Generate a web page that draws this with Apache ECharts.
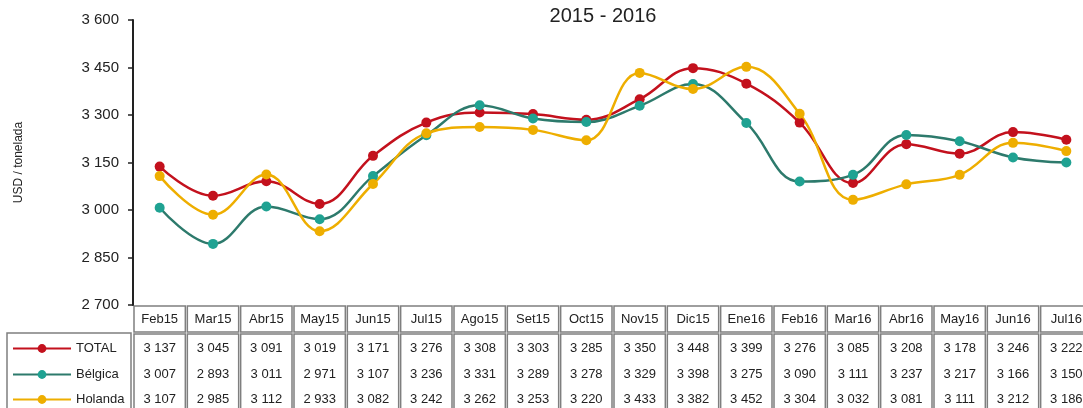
<!DOCTYPE html>
<html>
<head>
<meta charset="utf-8">
<script src="https://cdn.jsdelivr.net/npm/echarts@6/dist/echarts.min.js"></script>
<style>
  html, body { margin: 0; padding: 0; background: #fff; }
  #main { width: 1083px; height: 408px; }
</style>
</head>
<body>
<div id="main"></div>
<script>
// data
var months = ['Feb15', 'Mar15', 'Abr15', 'May15', 'Jun15', 'Jul15', 'Ago15', 'Set15', 'Oct15',
  'Nov15', 'Dic15', 'Ene16', 'Feb16', 'Mar16', 'Abr16', 'May16', 'Jun16', 'Jul16'];
var total = [3137, 3045, 3091, 3019, 3171, 3276, 3308, 3303, 3285, 3350, 3448, 3399, 3276, 3085, 3208, 3178, 3246, 3222];
var belgica = [3007, 2893, 3011, 2971, 3107, 3236, 3331, 3289, 3278, 3329, 3398, 3275, 3090, 3111, 3237, 3217, 3166, 3150];
var holanda = [3107, 2985, 3112, 2933, 3082, 3242, 3262, 3253, 3220, 3433, 3382, 3452, 3304, 3032, 3081, 3111, 3212, 3186];
var seriesNames = ['TOTAL', 'Bélgica', 'Holanda'];

var FONT = 'Liberation Sans, Arial, sans-serif';
var GRID_TOP = 20, GRID_H = 285;
var ROW_OFFSETS = [37, 63, 88];

function fmt(v) {
  return String(v).replace(/\B(?=(\d{3})+(?!\d))/g, ' ');
}

// extra category axes under the plot carry the table rows
function rowAxis(values, offset) {
  return {
    type: 'category',
    position: 'bottom',
    offset: offset,
    data: values.map(fmt),
    axisLine: { show: false },
    axisTick: { show: false },
    axisLabel: { interval: 0, margin: 0, color: '#222', fontSize: 13, fontFamily: FONT }
  };
}

// one legend per table row so each sits on its own line
function rowLegend(name, top) {
  return {
    orient: 'horizontal',
    left: 12,
    top: top,
    padding: 0,
    itemWidth: 58,
    itemHeight: 11,
    textStyle: { color: '#222', fontSize: 13, fontFamily: FONT },
    data: [name]
  };
}

var myChart = echarts.init(document.getElementById('main'), null, { renderer: 'canvas' });

var option = {
  animation: false,
  title: {
    text: '2015 - 2016',
    left: 598,
    textAlign: 'center',
    top: 1,
    textStyle: { color: '#222', fontSize: 20, fontWeight: 'normal', fontFamily: FONT }
  },
  legend: [
    rowLegend(seriesNames[0], 342),
    rowLegend(seriesNames[1], 368),
    rowLegend(seriesNames[2], 393)
  ],
  grid: { left: 133, width: 960, top: GRID_TOP, height: GRID_H, outerBoundsMode: 'none', containLabel: false },
  xAxis: [
    {
      type: 'category',
      data: months,
      boundaryGap: true,
      axisLine: { show: false },
      axisTick: { show: false },
      axisLabel: { interval: 0, margin: 8, color: '#222', fontSize: 13, fontFamily: FONT }
    },
    rowAxis(total, ROW_OFFSETS[0]),
    rowAxis(belgica, ROW_OFFSETS[1]),
    rowAxis(holanda, ROW_OFFSETS[2])
  ],
  yAxis: {
    type: 'value',
    min: 2700,
    max: 3600,
    interval: 150,
    name: 'USD / tonelada',
    nameLocation: 'middle',
    nameGap: 108,
    nameTextStyle: { color: '#222', fontSize: 12, fontFamily: FONT },
    axisLine: { show: true, lineStyle: { color: '#222', width: 2 } },
    axisTick: { show: true, length: 5, lineStyle: { color: '#222', width: 1.5 } },
    axisLabel: { margin: 14, color: '#222', fontSize: 15, fontFamily: FONT, formatter: fmt },
    splitLine: { show: false }
  },
  series: [
    {
      name: seriesNames[0],
      type: 'line',
      data: total,
      smooth: 0.4,
      symbol: 'circle',
      symbolSize: 10,
      lineStyle: { color: '#C3111D', width: 2.5 },
      itemStyle: { color: '#C3111D' }
    },
    {
      name: seriesNames[1],
      type: 'line',
      data: belgica,
      smooth: 0.4,
      symbol: 'circle',
      symbolSize: 10,
      lineStyle: { color: '#2D7A6C', width: 2.5 },
      itemStyle: { color: '#1FA292' }
    },
    {
      name: seriesNames[2],
      type: 'line',
      data: holanda,
      smooth: 0.4,
      symbol: 'circle',
      symbolSize: 10,
      lineStyle: { color: '#EEAE00', width: 2.5 },
      itemStyle: { color: '#EEAE00' }
    }
  ]
};

myChart.setOption(option);

// table cell borders, placed from the category axis
var baseY = GRID_TOP + GRID_H;
var c0 = myChart.convertToPixel({ xAxisIndex: 0 }, 0);
var c1 = myChart.convertToPixel({ xAxisIndex: 0 }, 1);
var cellW = c1 - c0;
var border = { fill: 'none', stroke: '#7f7f7f', lineWidth: 1.5 };
var cells = [];
months.forEach(function (m, i) {
  var cx = myChart.convertToPixel({ xAxisIndex: 0 }, i);
  var x0 = cx - cellW / 2 + 1;
  cells.push({ type: 'rect', shape: { x: x0, y: baseY + 1, width: cellW - 2, height: 26 }, style: border, silent: true });
  cells.push({ type: 'rect', shape: { x: x0, y: baseY + 29, width: cellW - 2, height: 90 }, style: border, silent: true });
});
// legend column box
cells.push({ type: 'rect', shape: { x: 7, y: baseY + 28, width: 124, height: 90 }, style: border, silent: true });

myChart.setOption({ graphic: cells });

window.addEventListener('resize', myChart.resize);
</script>
</body>
</html>
